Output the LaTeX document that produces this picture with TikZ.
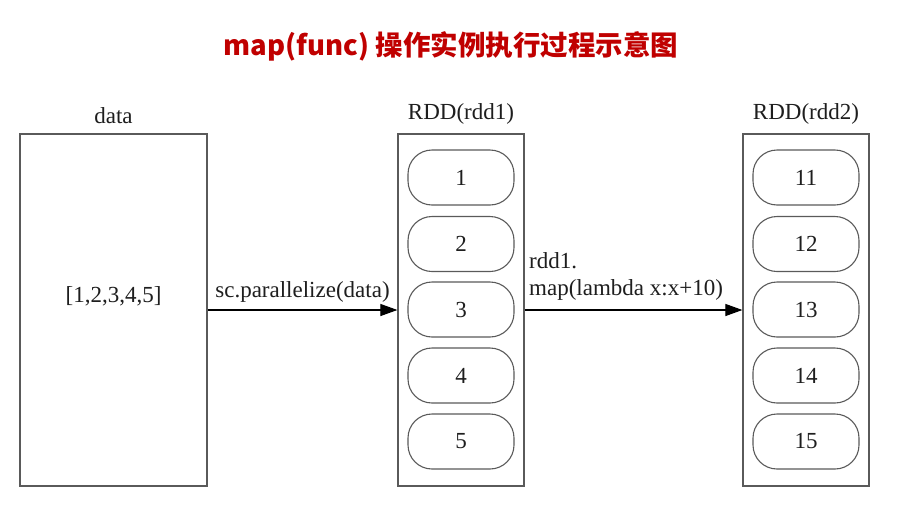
\documentclass[tikz,border=0pt]{standalone}
\usepackage{fontspec}
\setmainfont{Liberation Serif}
\newfontfamily\cjk{Noto Sans CJK SC}
\usetikzlibrary{arrows.meta}
\definecolor{titlered}{RGB}{192,0,0}
\definecolor{linegray}{RGB}{90,90,90}
\definecolor{txt}{RGB}{30,30,30}
\tikzset{
  box/.style={draw=linegray, line width=1.2pt, minimum width=126pt, minimum height=352pt, inner sep=0pt},
  pill/.style={draw=linegray, line width=1.1pt, rounded corners=24pt, minimum width=106pt, minimum height=55pt, inner sep=0pt, text=txt, font=\fontsize{23}{27}\selectfont},
  lbl/.style={text=txt, font=\fontsize{23}{27}\selectfont, inner sep=0pt},
  arr/.style={draw=black, line width=1.1pt, -{Triangle[length=17pt,width=12pt]}},
}
\begin{document}
\begin{tikzpicture}[x=1pt,y=-1pt]
\useasboundingbox (0,0) rectangle (908,504);
\fill[white] (0,0) rectangle (908,504);
\node[text=titlered, font=\cjk\bfseries\fontsize{27.5}{31}\selectfont] (title) at (451,46) {map(func) 操作实例执行过程示意图};

% data box
\node[box, minimum width=187pt] (data) at (113.5,310) {};
\node[lbl, anchor=base] (datalbl) at (113.5,123) {data};
\node[lbl, anchor=base] (datatxt) at (113.5,302) {[1,2,3,4,5]};

% rdd1
\node[box] (rdd1) at (461,310) {};
\node[lbl, anchor=base] (rdd1lbl) at (461,119) {RDD(rdd1)};
\node[pill] (p1) at (461,177.5) {1};
\node[pill] (p2) at (461,244) {2};
\node[pill] (p3) at (461,309.5) {3};
\node[pill] (p4) at (461,375.5) {4};
\node[pill] (p5) at (461,441.5) {5};

% rdd2
\node[box] (rdd2) at (806,310) {};
\node[lbl, anchor=base] (rdd2lbl) at (806,119) {RDD(rdd2)};
\node[pill] (q1) at (806,177.5) {11};
\node[pill] (q2) at (806,244) {12};
\node[pill] (q3) at (806,309.5) {13};
\node[pill] (q4) at (806,375.5) {14};
\node[pill] (q5) at (806,441.5) {15};

% arrows
\draw[arr] (data.east) -- node[lbl, above, inner sep=0pt, yshift=7pt] (l1) {sc.parallelize(data)} (rdd1.west);
\draw[arr] (rdd1.east) -- (rdd2.west);
\node[lbl, align=left, anchor=south west] (l2) at (529,301) {rdd1.\\map(lambda x:x+10)};
\end{tikzpicture}
\end{document}
